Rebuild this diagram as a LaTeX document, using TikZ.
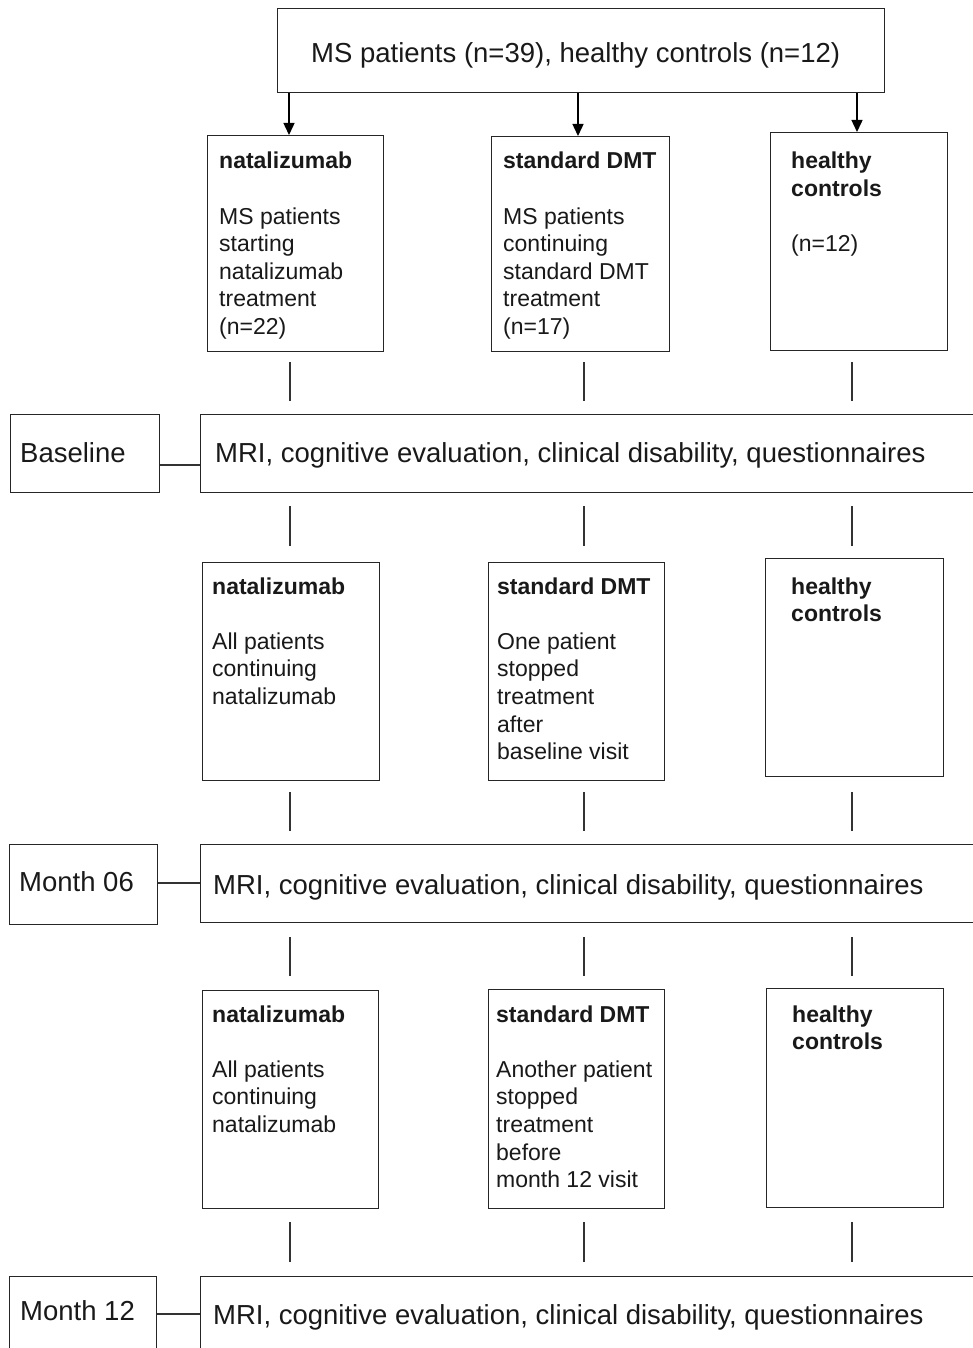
\documentclass[tikz,border=0pt]{standalone}
\usepackage{fontspec}
\setmainfont{Liberation Sans}
\usetikzlibrary{arrows.meta,calc}
\newcommand{\bigf}{\fontsize{27.5}{32}\selectfont}
\newcommand{\boxf}{\fontsize{23}{27.6}\selectfont}
\tikzset{
  box/.style={draw=black!85, line width=1.4pt, fill=white, inner sep=0pt, anchor=north west},
  txt/.style={inner sep=0pt, anchor=base west, font=\boxf, text=black!90},
  bigtxt/.style={inner sep=0pt, anchor=base west, font=\bigf, text=black!90},
  link/.style={draw=black!80, line width=1.4pt},
  arr/.style={draw=black, line width=1.4pt, -{Triangle[width=11pt,length=12pt]}}
}
\begin{document}
\begin{tikzpicture}[x=1pt,y=-1pt]
\useasboundingbox (0,0) rectangle (973,1348);
\clip (0,0) rectangle (973,1348);
% column coordinates
\coordinate (ca) at (289,0);
\coordinate (cb) at (578,0);
\coordinate (cc) at (857,0);
\coordinate (c1) at (290,0);
\coordinate (c2) at (584,0);
\coordinate (c3) at (852,0);

% top box
\node[box, minimum width=607pt, minimum height=84pt] (top) at (277,8) {};
\node[bigtxt] (toptxt) at (311,63) {MS patients (n=39), healthy controls (n=12)};

% row 1
\node[box, minimum width=176pt, minimum height=216pt] (n11) at (207,135) {};
\node[box, minimum width=178pt, minimum height=215pt] (n12) at (491,136) {};
\node[box, minimum width=177pt, minimum height=218pt] (n13) at (770,132) {};
\node[txt] (t11) at (219,169) {\begin{tabular}[t]{@{}l@{}}\textbf{natalizumab}\\ \\ MS patients\\ starting\\ natalizumab\\ treatment\\ (n=22)\end{tabular}};
\node[txt] (t12) at (503,169) {\begin{tabular}[t]{@{}l@{}}\textbf{standard DMT}\\ \\ MS patients\\ continuing\\ standard DMT\\ treatment\\ (n=17)\end{tabular}};
\node[txt] (t13) at (791,169) {\begin{tabular}[t]{@{}l@{}}\textbf{healthy}\\ \textbf{controls}\\ \\ (n=12)\end{tabular}};

\draw[arr] (ca |- top.south) -- (ca |- n11.north);
\draw[arr] (cb |- top.south) -- (cb |- n12.north);
\draw[arr] (cc |- top.south) -- (cc |- n13.north);

% baseline row
\node[box, minimum width=149pt, minimum height=78pt] (l1) at (10,414) {};
\node[box, minimum width=820pt, minimum height=78pt] (m1) at (200,414) {};
\node[bigtxt] (l1t) at (20,462) {Baseline};
\node[bigtxt] (m1t) at (215,462) {MRI, cognitive evaluation, clinical disability, questionnaires};
\draw[link] (l1.east |- 0,465) -- (m1.west |- 0,465);

\foreach \c in {c1,c2,c3}{
  \draw[link] ($(\c |- m1.north)+(0,-13)$) -- ++(0,-39);
  \draw[link] ($(\c |- m1.south)+(0,13)$) -- ++(0,40);
}

% row 2
\node[box, minimum width=177pt, minimum height=218pt] (n21) at (202,562) {};
\node[box, minimum width=176pt, minimum height=218pt] (n22) at (488,562) {};
\node[box, minimum width=178pt, minimum height=218pt] (n23) at (765,558) {};
\node[txt] (t21) at (212,594) {\begin{tabular}[t]{@{}l@{}}\textbf{natalizumab}\\ \\ All patients\\ continuing\\ natalizumab\end{tabular}};
\node[txt] (t22) at (497,594) {\begin{tabular}[t]{@{}l@{}}\textbf{standard DMT}\\ \\ One patient\\ stopped\\ treatment\\ after\\ baseline visit\end{tabular}};
\node[txt] (t23) at (791,594) {\begin{tabular}[t]{@{}l@{}}\textbf{healthy}\\ \textbf{controls}\end{tabular}};

% month 06 row
\node[box, minimum width=148pt, minimum height=80pt] (l2) at (9,844) {};
\node[box, minimum width=820pt, minimum height=78pt] (m2) at (200,844) {};
\node[bigtxt] (l2t) at (19,891) {Month 06};
\node[bigtxt] (m2t) at (213,894) {MRI, cognitive evaluation, clinical disability, questionnaires};
\draw[link] (l2.east |- 0,883) -- (m2.west |- 0,883);

\foreach \c in {c1,c2,c3}{
  \draw[link] ($(\c |- m2.north)+(0,-13)$) -- ++(0,-39);
  \draw[link] ($(\c |- m2.south)+(0,14)$) -- ++(0,39);
}

% row 3
\node[box, minimum width=176pt, minimum height=218pt] (n31) at (202,990) {};
\node[box, minimum width=176pt, minimum height=219pt] (n32) at (488,989) {};
\node[box, minimum width=177pt, minimum height=219pt] (n33) at (766,988) {};
\node[txt] (t31) at (212,1022) {\begin{tabular}[t]{@{}l@{}}\textbf{natalizumab}\\ \\ All patients\\ continuing\\ natalizumab\end{tabular}};
\node[txt] (t32) at (496,1022) {\begin{tabular}[t]{@{}l@{}}\textbf{standard DMT}\\ \\ Another patient\\ stopped\\ treatment\\ before\\ month 12 visit\end{tabular}};
\node[txt] (t33) at (792,1022) {\begin{tabular}[t]{@{}l@{}}\textbf{healthy}\\ \textbf{controls}\end{tabular}};

% month 12 row
\node[box, minimum width=147pt, minimum height=100pt] (l3) at (9,1276) {};
\node[box, minimum width=820pt, minimum height=100pt] (m3) at (200,1276) {};
\node[bigtxt] (l3t) at (20,1320) {Month 12};
\node[bigtxt] (m3t) at (213,1324) {MRI, cognitive evaluation, clinical disability, questionnaires};
\draw[link] (l3.east |- 0,1314) -- (m3.west |- 0,1314);

\foreach \c in {c1,c2,c3}{
  \draw[link] ($(\c |- m3.north)+(0,-14)$) -- ++(0,-40);
}
\end{tikzpicture}
\end{document}
